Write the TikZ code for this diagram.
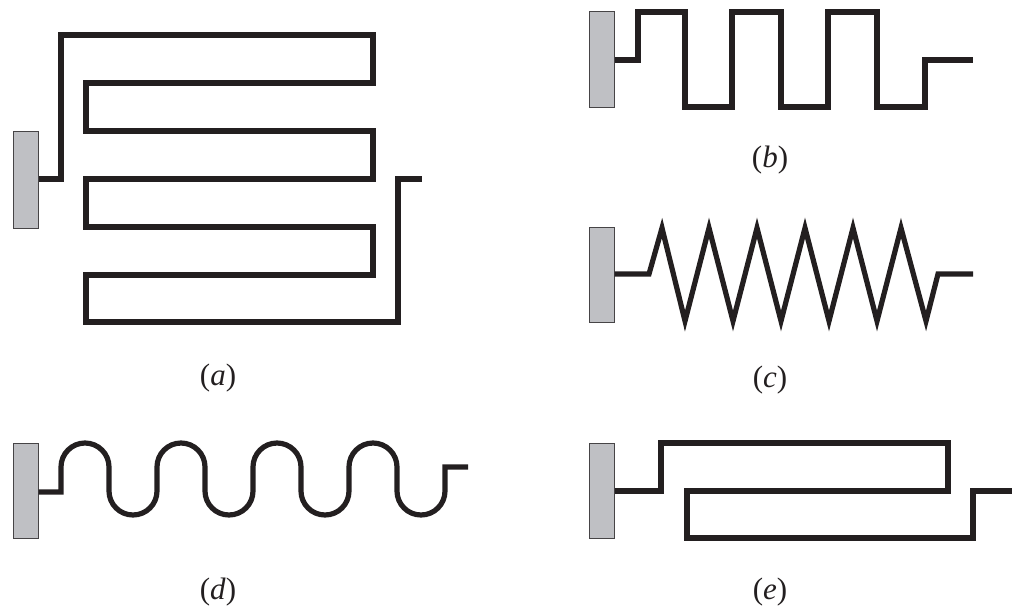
\documentclass[tikz,border=0pt]{standalone}
\usepackage{fontspec}
\setmainfont{Liberation Serif}
\newfontfamily\capfont{Liberation Serif}
\definecolor{ink}{RGB}{35,31,32}
\definecolor{wallgray}{RGB}{191,192,196}
\definecolor{wallrim}{RGB}{70,68,70}
\begin{document}
\begin{tikzpicture}[x=1pt,y=-1pt,
  wall/.style={draw=wallrim,line width=1pt,fill=wallgray,inner sep=0pt,
    minimum width=25pt,minimum height=95pt},
  spring/.style={draw=ink,line width=5.2pt,line join=miter,line cap=butt},
  caption/.style={font=\capfont\fontsize{31}{33}\selectfont,text=ink,inner sep=0pt}]
\useasboundingbox (0,0) rectangle (1016,611);

% (a) folded meander spring
\node[wall,minimum height=97pt] (wa) at (25.5,179.5) {};
\coordinate (ea) at (422,179);
\draw[spring] (wa.east |- 0,179) -- (61,179) -- (61,35) -- (373,35) -- (373,83)
  -- (86,83) -- (86,131) -- (373,131) -- (373,179) -- (86,179) -- (86,227)
  -- (373,227) -- (373,275) -- (86,275) -- (86,322) -- (398,322) -- (398,179)
  -- (ea);
\node[caption] (la) at (218,378) {(\textit{a})};

% (b) square-wave spring
\node[wall,minimum height=96pt] (wb) at (601.5,59) {};
\coordinate (eb) at (973,60);
\draw[spring] (wb.east |- 0,60) -- (638,60) -- (638,12) -- (685,12) -- (685,107)
  -- (732,107) -- (732,12) -- (781,12) -- (781,107) -- (828,107) -- (828,12)
  -- (877,12) -- (877,107) -- (925,107) -- (925,60) -- (eb);
\node[caption] (lb) at (770,160) {(\textit{b})};

% (c) zigzag spring
\node[wall] (wc) at (601.5,274.5) {};
\coordinate (ec) at (973,274);
\draw[spring] (wc.east |- 0,274) -- (649,274) -- (662,228) -- (685,321)
  -- (709,228) -- (733,321) -- (757,228) -- (781,321) -- (805,228) -- (829,321)
  -- (853,228) -- (877,321) -- (901,228) -- (926,321) -- (938,274) -- (ec);
\node[caption] (lc) at (770,380) {(\textit{c})};

% (d) rounded meander spring
\node[wall] (wd) at (25.5,490.5) {};
\coordinate (ed) at (468,467);
\draw[spring] (wd.east |- 0,492) -- (61,492) -- (61,467)
  arc[start angle=180,end angle=360,radius=24] -- (109,491)
  arc[start angle=180,end angle=0,radius=24] -- (157,467)
  arc[start angle=180,end angle=360,radius=24] -- (205,491)
  arc[start angle=180,end angle=0,radius=24] -- (253,467)
  arc[start angle=180,end angle=360,radius=24] -- (301,491)
  arc[start angle=180,end angle=0,radius=24] -- (349,467)
  arc[start angle=180,end angle=360,radius=24] -- (397,491)
  arc[start angle=180,end angle=0,radius=24] -- (445,467) -- (ed);
\node[caption] (ld) at (218,592) {(\textit{d})};

% (e) single-fold spring
\node[wall] (we) at (601.5,490.5) {};
\coordinate (ee) at (1012,491);
\draw[spring] (we.east |- 0,491) -- (661,491) -- (661,443) -- (948,443)
  -- (948,491) -- (687,491) -- (687,538) -- (973,538) -- (973,491) -- (ee);
\node[caption] (le) at (770,592) {(\textit{e})};
\end{tikzpicture}
\end{document}
